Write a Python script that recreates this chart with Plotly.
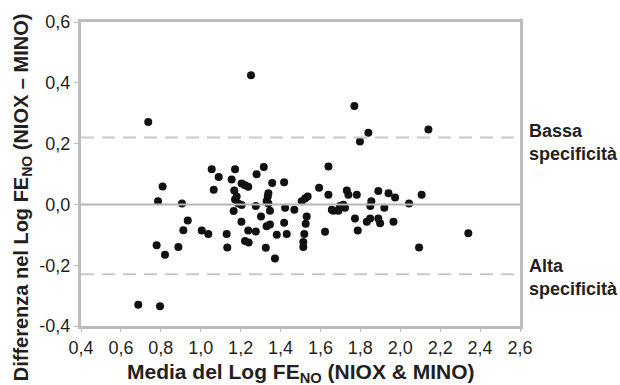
import plotly.graph_objects as go

# Bland-Altman data: mean of log FeNO (x) vs difference (y)
mean_log = [
    0.737, 1.252, 1.770, 1.840, 1.798, 2.141,
    1.055, 1.090, 1.172, 1.155, 1.316, 1.280, 1.065, 1.168, 1.205, 1.222, 1.238,
    1.358, 1.418, 0.809, 0.786, 0.906, 1.339, 1.336, 1.330, 1.339,
    1.172, 1.180, 1.188, 1.205, 1.165,
    1.276, 1.347, 1.423, 1.469, 1.593, 1.640, 1.640, 1.523, 1.536, 1.506, 1.657,
    1.302, 1.204, 1.347, 1.330, 1.418, 1.531, 1.526, 1.238, 1.276, 1.381, 1.431,
    1.519, 1.623, 1.222, 1.240, 1.514, 1.514, 1.326, 1.372,
    0.935, 0.913, 1.005, 1.038, 1.130, 1.133, 0.779, 0.888, 0.821, 0.687, 0.796,
    1.732, 1.740, 1.782, 1.890, 1.941, 1.974, 2.107, 2.044, 1.855, 1.850, 1.920,
    1.715, 1.698, 1.665, 1.690, 1.723, 1.773, 1.832, 1.849, 1.890, 1.899, 1.966,
    1.787, 2.341, 2.094,
]
diff_log = [
    0.271, 0.425, 0.324, 0.236, 0.207, 0.246,
    0.116, 0.090, 0.116, 0.082, 0.123, 0.099, 0.048, 0.046, 0.069, 0.063, 0.058,
    0.070, 0.073, 0.059, 0.010, 0.003, 0.037, 0.026, 0.010, 0.003,
    0.016, 0.026, 0.003, -0.002, -0.022,
    -0.005, -0.021, -0.011, -0.018, 0.055, 0.125, 0.032, 0.019, 0.026, 0.010, -0.018,
    -0.040, -0.057, -0.066, -0.072, -0.060, -0.040, -0.064, -0.086, -0.089, -0.100, -0.097,
    -0.097, -0.090, -0.120, -0.125, -0.124, -0.140, -0.143, -0.178,
    -0.053, -0.085, -0.086, -0.097, -0.097, -0.142, -0.134, -0.140, -0.166, -0.330, -0.335,
    0.046, 0.032, 0.032, 0.044, 0.037, 0.023, 0.032, 0.003, 0.010, -0.005, -0.011,
    -0.001, -0.005, -0.021, -0.021, -0.011, -0.046, -0.057, -0.046, -0.046, -0.062, -0.057,
    -0.086, -0.095, -0.142,
]

upper_limit = 0.22
lower_limit = -0.23

x_tickvals = [0.4, 0.6, 0.8, 1.0, 1.2, 1.4, 1.6, 1.8, 2.0, 2.2, 2.4, 2.6]
x_ticktext = ["0,4", "0,6", "0,8", "1,0", "1,2", "1,4", "1,6", "1,8", "2,0", "2,2", "2,4", "2,6"]
y_tickvals = [-0.4, -0.2, 0.0, 0.2, 0.4, 0.6]
y_ticktext = ["-0,4", "-0,2", "0,0", "0,2", "0,4", "0,6"]

FONT = "Liberation Sans, Arial, sans-serif"
TXT = "#231f20"
GRID = "#bdbdbd"

fig = go.Figure()
fig.add_trace(go.Scatter(
    x=mean_log, y=diff_log, mode="markers",
    marker=dict(color="#111111", size=8, line=dict(width=0)),
    showlegend=False, hoverinfo="skip",
))

# zero line and limits
fig.add_shape(type="line", xref="paper", x0=0, x1=1, yref="y", y0=0, y1=0,
              line=dict(color="#b5b5b5", width=2))
for lim in (upper_limit, lower_limit):
    fig.add_shape(type="line", xref="paper", x0=0, x1=1, yref="y", y0=lim, y1=lim,
                  line=dict(color="#c8c8c8", width=2, dash="13px,8px"))

fig.update_xaxes(
    range=[0.4, 2.6], tickvals=x_tickvals, ticktext=x_ticktext,
    showgrid=False, zeroline=False, showline=True, mirror=True,
    linecolor=GRID, linewidth=3, ticks="outside", ticklen=3, tickcolor=GRID,
    tickfont=dict(family=FONT, size=18, color=TXT),
)
fig.update_yaxes(
    range=[-0.4, 0.6], tickvals=y_tickvals, ticktext=y_ticktext,
    showgrid=False, zeroline=False, showline=True, mirror=True,
    linecolor=GRID, linewidth=3, ticks="outside", ticklen=4, tickcolor=GRID,
    tickfont=dict(family=FONT, size=18, color=TXT),
)

fig.add_annotation(
    text="<b>Media del Log FE<sub>NO</sub> (NIOX &amp; MINO)</b>",
    xref="paper", yref="paper", x=0.5, y=-0.155, xanchor="center", yanchor="middle",
    showarrow=False, font=dict(family=FONT, size=21, color=TXT),
)
fig.add_annotation(
    text="<b>Differenza nel Log FE<sub>NO</sub> (NIOX – MINO)</b>",
    xref="paper", yref="paper", x=-0.134, y=0.424, xanchor="center", yanchor="middle",
    textangle=-90, showarrow=False, font=dict(family=FONT, size=20, color=TXT),
)
fig.add_annotation(
    text="<b>Bassa<br>specificità</b>", align="left",
    xref="paper", yref="paper", x=1.016, y=0.603, xanchor="left", yanchor="middle",
    showarrow=False, font=dict(family=FONT, size=18, color=TXT),
)
fig.add_annotation(
    text="<b>Alta<br>specificità</b>", align="left",
    xref="paper", yref="paper", x=1.016, y=0.158, xanchor="left", yanchor="middle",
    showarrow=False, font=dict(family=FONT, size=18, color=TXT),
)

fig.update_layout(
    width=620, height=385,
    margin=dict(l=81, r=100, t=15, b=59),
    paper_bgcolor="white", plot_bgcolor="white",
)
fig.write_html("out.html")
